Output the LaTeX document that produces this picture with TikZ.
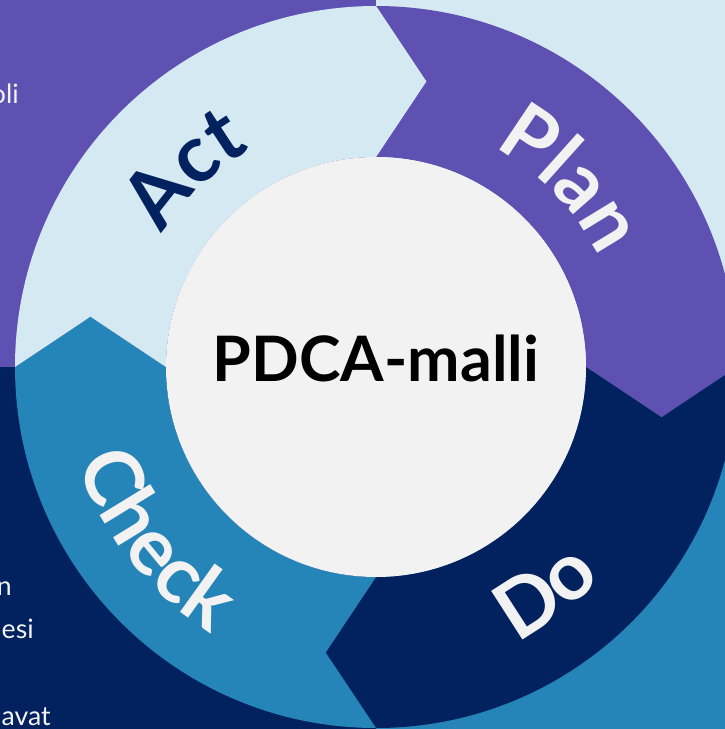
\documentclass[tikz,border=0pt]{standalone}
\usepackage{fontspec}
\setmainfont{Lato}
\usetikzlibrary{decorations.text}
\definecolor{planc}{HTML}{5F51B1}
\definecolor{actc}{HTML}{D5E9F2}
\definecolor{doc}{HTML}{02215F}
\definecolor{checkc}{HTML}{2585B8}
\definecolor{hubc}{HTML}{F2F2F2}
\begin{document}
\begin{tikzpicture}
[x=0.75pt,y=0.75pt,
 segment/.style={fill=#1,draw=none},
 ringlabel/.style={decorate,decoration={text along path,text align=center,text color=#1}},
 edgetext/.style={text=hubc,inner sep=0pt,anchor=base east,font=\fontsize{20}{22}\selectfont}]
\useasboundingbox (-376,-362) rectangle (349,367);
\clip (-376,-362) rectangle (349,367);

% background quarters
\fill[planc] (-376,0) rectangle (0,367);
\fill[actc] (0,0) rectangle (349,367);
\fill[doc] (-376,-362) rectangle (0,0);
\fill[checkc] (0,-362) rectangle (349,0);

% cut-off side texts
\node[edgetext] (oli) at (-357,264) {oli};
\node[edgetext] (n) at (-364,-228) {n};
\node[edgetext] (esi) at (-342,-271) {esi};
\node[edgetext] (avat) at (-325,-358) {avat};

% ring of arrows
\foreach \s/\c in {90/planc,0/doc,-90/checkc,180/actc}
  \fill[segment=\c] (\s:361) arc[start angle=\s, end angle=\s-90, radius=361]
    -- (\s-100:290) -- (\s-90:210) arc[start angle=\s-90, end angle=\s, radius=210]
    -- (\s-10:290) -- cycle;

\path[ringlabel=hubc,decoration={text={|\fontsize{60}{62}\selectfont\bfseries|Plan}}]
  (79:249) arc[start angle=79, end angle=9, radius=249];
\path[ringlabel=doc,decoration={text={|\fontsize{60}{62}\selectfont\bfseries|Act}}]
  (169:251) arc[start angle=169, end angle=99, radius=251];
\path[ringlabel=hubc,decoration={text={|\fontsize{60}{62}\selectfont\bfseries|Check}}]
  (183:313) arc[start angle=183, end angle=253, radius=313];
\path[ringlabel=hubc,decoration={text={|\fontsize{60}{62}\selectfont\bfseries|Do}}]
  (272:309) arc[start angle=272, end angle=342, radius=309];

% hub
\fill[hubc] (0,0) circle[radius=210];
\node[anchor=base,inner sep=0pt,font=\fontsize{47}{50}\selectfont\bfseries] (title) at (0,-14) {PDCA-malli};
\end{tikzpicture}
\end{document}
